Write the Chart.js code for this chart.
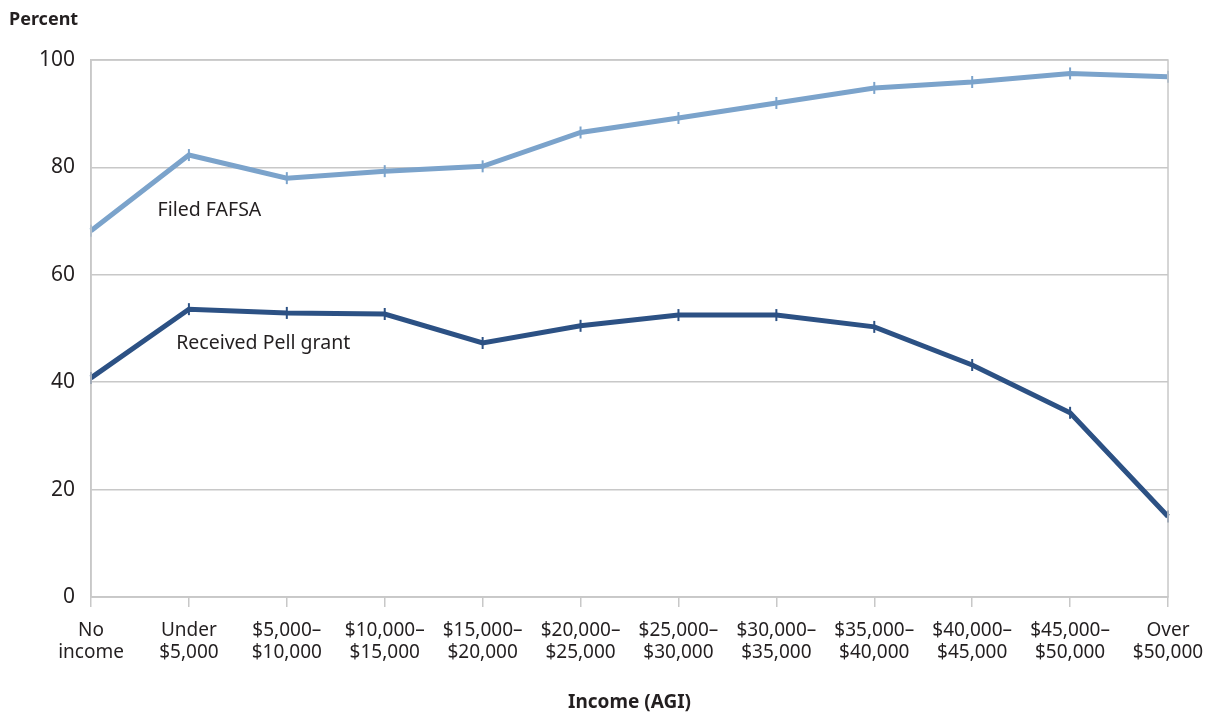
<!DOCTYPE html>
<html>
<head>
<meta charset="utf-8">
<script src="https://cdn.jsdelivr.net/npm/chart.js@4"></script>
<style>
html,body{margin:0;padding:0;background:#fff;}
#wrap{width:1206px;height:715px;position:relative;}
</style>
</head>
<body>
<div id="wrap"><canvas id="c" width="1206" height="715"></canvas></div>
<script>
const categories = [
  ['No','income'], ['Under','$5,000'], ['$5,000–','$10,000'], ['$10,000–','$15,000'],
  ['$15,000–','$20,000'], ['$20,000–','$25,000'], ['$25,000–','$30,000'], ['$30,000–','$35,000'],
  ['$35,000–','$40,000'], ['$40,000–','$45,000'], ['$45,000–','$50,000'], ['Over','$50,000']
];
const filedFAFSA = [68.2, 82.3, 78.0, 79.3, 80.2, 86.5, 89.2, 92.0, 94.8, 95.9, 97.5, 96.9];
const receivedPell = [40.8, 53.6, 52.9, 52.7, 47.3, 50.5, 52.5, 52.5, 50.3, 43.2, 34.3, 15.0];
const yTicks = [0, 20, 40, 60, 80, 100];
const seriesNames = ['Filed FAFSA', 'Received Pell grant'];
const yTitle = 'Percent';
const xTitle = 'Income (AGI)';

const FONT = '"Noto Sans", "Open Sans", sans-serif';
const TEXT = '#231f20';
const GRID = '#c8c8c8';

const labelPlugin = {
  id: 'labels',
  afterDatasetsDraw(chart) {
    const {ctx, scales:{x, y}, chartArea:a} = chart;
    ctx.save();
    ctx.strokeStyle = GRID; ctx.lineWidth = 1.5;
    ctx.strokeRect(a.left, a.top, a.right - a.left, a.bottom - a.top);
    ctx.restore();
    ctx.save();
    ctx.fillStyle = TEXT;
    ctx.font = '19.5px ' + FONT;
    ctx.textBaseline = 'middle';
    ctx.textAlign = 'left';
    ctx.fillText(seriesNames[0], x.getPixelForValue(0.68), y.getPixelForValue(72.0));
    ctx.fillText(seriesNames[1], x.getPixelForValue(0.87), y.getPixelForValue(47.2));
    ctx.font = 'bold 18px ' + FONT;
    ctx.textBaseline = 'alphabetic';
    ctx.fillText(yTitle, 9, 25);
    ctx.restore();
  }
};

new Chart(document.getElementById('c'), {
  type: 'line',
  data: {
    labels: categories,
    datasets: [
      { label: seriesNames[0], data: filedFAFSA, borderColor: '#7ba3cb', backgroundColor: '#7ba3cb',
        borderWidth: 5, pointStyle: 'line', rotation: 90, pointRadius: 6, pointBorderWidth: 2,
        pointBorderColor: '#7ba3cb', tension: 0, borderJoinStyle: 'miter' },
      { label: seriesNames[1], data: receivedPell, borderColor: '#2c5184', backgroundColor: '#2c5184',
        borderWidth: 5, pointStyle: 'line', rotation: 90, pointRadius: 6, pointBorderWidth: 2,
        pointBorderColor: '#2c5184', tension: 0, borderJoinStyle: 'miter' }
    ]
  },
  options: {
    responsive: false,
    animation: false,
    devicePixelRatio: 1,
    layout: { padding: { left: 0, right: 38, top: 60, bottom: 0 } },
    plugins: { legend: { display: false }, tooltip: { enabled: false }, title: { display: false } },
    scales: {
      x: {
        type: 'category',
        offset: false,
        grid: { display: true, drawOnChartArea: false, drawTicks: true, tickLength: 10, color: GRID, lineWidth: 1.5 },
        border: { display: true, color: GRID, width: 1.5 },
        ticks: { color: TEXT, font: { family: FONT, size: 19, lineHeight: 1.17 }, maxRotation: 0, autoSkip: false, padding: 12 },
        title: { display: true, text: xTitle, color: TEXT, font: { family: FONT, size: 19, weight: 'bold' }, padding: { top: 20, bottom: 1 } },
        afterFit(s) { s.height = 118; s.paddingLeft = 0; s.paddingRight = 0; }
      },
      y: {
        min: 0, max: 100,
        afterBuildTicks(s) { s.ticks = yTicks.map(v => ({ value: v })); },
        grid: { color: GRID, lineWidth: 1.5, drawTicks: false },
        border: { display: true, color: GRID, width: 1.5 },
        ticks: { color: TEXT, font: { family: FONT, size: 21 }, padding: 16 },
        afterFit(s) { s.width = 91; s.paddingTop = 0; s.paddingBottom = 0; }
      }
    }
  },
  plugins: [labelPlugin]
});
</script>
</body>
</html>
